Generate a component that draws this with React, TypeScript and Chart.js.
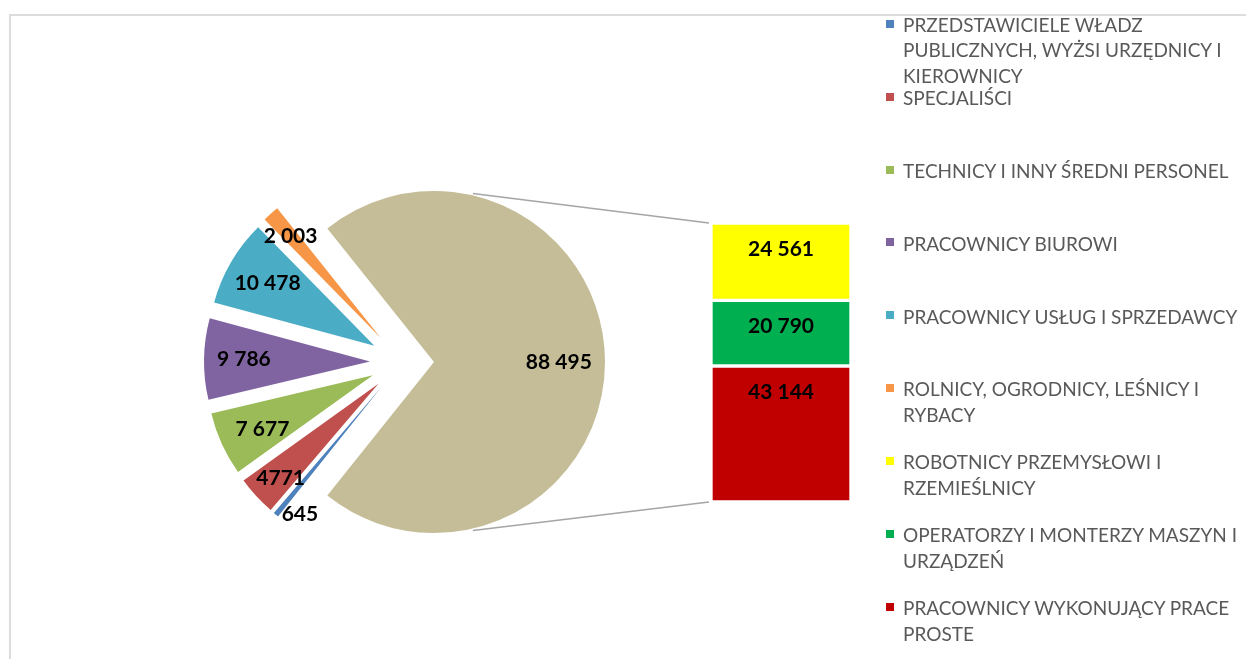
import React, { useEffect, useRef } from 'react';
import { Chart, registerables } from 'chart.js';

Chart.register(...registerables);

// ---------------- data ----------------
const pieCategories = [
  'PRZEDSTAWICIELE WŁADZ\nPUBLICZNYCH, WYŻSI URZĘDNICY I\nKIEROWNICY',
  'SPECJALIŚCI',
  'TECHNICY I INNY ŚREDNI PERSONEL',
  'PRACOWNICY BIUROWI',
  'PRACOWNICY USŁUG I SPRZEDAWCY',
  'ROLNICY, OGRODNICY, LEŚNICY I\nRYBACY',
];
const pieValues = [645, 4771, 7677, 9786, 10478, 2003];
const pieValueLabels = ['645', '4771', '7 677', '9 786', '10 478', '2 003'];

const barCategories = [
  'ROBOTNICY PRZEMYSŁOWI I\nRZEMIEŚLNICY',
  'OPERATORZY I MONTERZY MASZYN I\nURZĄDZEŃ',
  'PRACOWNICY WYKONUJĄCY PRACE\nPROSTE',
];
const barValues = [24561, 20790, 43144];
const barValueLabels = ['24 561', '20 790', '43 144'];

const otherCategory = 'POZOSTALI';
const otherValueLabel = '88 495';

// ---------------- style ----------------
const pieColors = ['#4F81BD', '#C0504D', '#9BBB59', '#8064A2', '#4BACC6', '#F79646'];
const otherColor = '#C4BD97';
const barColors = ['#FFFF00', '#00B050', '#C00000'];

const W = 1246;
const H = 659;
const PIE_CX = 402;
const PIE_CY = 362;
const SMALL_R = 166;
const BIG_R = 171;
const EXPLODE = 32;
const BAR_LEFT = 711;
const BAR_TOP = 223;
const BAR_W = 140;
const BAR_H = 279;
const LABEL_FONT = 'bold 21px Lato';
// label distance (fraction of radius) and angular nudge per slice (other first)
const pieLabelFrac = [0.73, 0.915, 0.82, 0.74, 0.76, 0.745, 0.82];
const pieLabelNudgeDeg = [0, -7, -1.5, -1.5, 0, 0, 0];

const LEG_MARK_X = 886;
const LEG_TEXT_X = 903;
const LEG_Y0 = 23.7;
const LEG_STEP = 72.9;
const LEG_LINE_H = 25.5;
const LEG_FONT_SIZE = 19;

const norm = (s: string) => s.replace(/\n/g, ' ');

export default function App() {
  const pieRef = useRef<HTMLCanvasElement>(null);
  const barRef = useRef<HTMLCanvasElement>(null);

  useEffect(() => {
    if (!pieRef.current || !barRef.current) return;

    const otherValue = barValues.reduce((a, b) => a + b, 0);
    const total = pieValues.reduce((a, b) => a + b, 0) + otherValue;
    const otherDeg = (otherValue / total) * 360;

    // ---------- bar (breakdown of the aggregated slice) ----------
    const stackOrder = [2, 1, 0]; // bottom to top
    const barLabelPlugin = {
      id: 'barLabels',
      afterDatasetsDraw(chart: any) {
        const ctx = chart.ctx;
        ctx.save();
        ctx.font = LABEL_FONT;
        ctx.fillStyle = '#000';
        ctx.textAlign = 'center';
        ctx.textBaseline = 'middle';
        chart.data.datasets.forEach((ds: any, di: number) => {
          const el: any = chart.getDatasetMeta(di).data[0];
          ctx.fillText(ds.valueLabel, el.x, el.y + 26);
        });
        ctx.restore();
      },
    };

    const barChart = new Chart(barRef.current, {
      type: 'bar',
      data: {
        labels: [otherCategory],
        datasets: stackOrder.map((k) => ({
          label: norm(barCategories[k]),
          data: [barValues[k]],
          backgroundColor: barColors[k],
          borderColor: '#FFFFFF',
          borderWidth: 2,
          borderSkipped: false,
          categoryPercentage: 1,
          barPercentage: 1,
          valueLabel: barValueLabels[k],
        })) as any,
      },
      options: {
        responsive: false,
        animation: false,
        events: [],
        layout: { padding: 0 },
        plugins: { legend: { display: false }, tooltip: { enabled: false } },
        scales: {
          x: { display: false, stacked: true },
          y: { display: false, stacked: true, min: 0, max: otherValue },
        },
      },
      plugins: [barLabelPlugin],
    });

    // ---------- pie ----------
    const explodePlugin = {
      id: 'explode',
      afterDatasetUpdate(chart: any, args: any) {
        const meta = chart.getDatasetMeta(args.index);
        meta.data.forEach((el: any, i: number) => {
          const mid = (el.startAngle + el.endAngle) / 2;
          el.x += Math.cos(mid) * EXPLODE;
          el.y += Math.sin(mid) * EXPLODE;
          el.outerRadius = i === 0 ? BIG_R : SMALL_R;
        });
      },
    };

    const pieLabels = [otherValueLabel, ...pieValueLabels];
    const pieLabelPlugin = {
      id: 'pieLabels',
      afterDatasetsDraw(chart: any) {
        const ctx = chart.ctx;
        const meta = chart.getDatasetMeta(0);
        // connector lines from the aggregated slice to the bar
        const big: any = meta.data[0];
        let top = Infinity;
        let bottom = -Infinity;
        let left = Infinity;
        barChart.data.datasets.forEach((_: any, di: number) => {
          barChart.getDatasetMeta(di).data.forEach((b: any) => {
            top = Math.min(top, b.y, b.base);
            bottom = Math.max(bottom, b.y, b.base);
            left = Math.min(left, b.x - b.width / 2);
          });
        });
        top += BAR_TOP;
        bottom += BAR_TOP;
        left += BAR_LEFT;
        const a = (77 * Math.PI) / 180;
        const r = big.outerRadius + 2;
        ctx.save();
        ctx.strokeStyle = '#A5A5A5';
        ctx.lineWidth = 1.5;
        ctx.beginPath();
        ctx.moveTo(big.x + Math.cos(-a) * r, big.y + Math.sin(-a) * r);
        ctx.lineTo(left - 2, top);
        ctx.moveTo(big.x + Math.cos(a) * r, big.y + Math.sin(a) * r);
        ctx.lineTo(left - 2, bottom);
        ctx.stroke();
        ctx.restore();

        ctx.save();
        ctx.font = LABEL_FONT;
        ctx.fillStyle = '#000';
        ctx.textAlign = 'center';
        ctx.textBaseline = 'middle';
        meta.data.forEach((el: any, i: number) => {
          const mid = (el.startAngle + el.endAngle) / 2 + (pieLabelNudgeDeg[i] * Math.PI) / 180;
          const rr = el.outerRadius * pieLabelFrac[i];
          ctx.fillText(pieLabels[i], el.x + Math.cos(mid) * rr, el.y + Math.sin(mid) * rr);
        });
        ctx.restore();
      },
    };

    const pieChart = new Chart(pieRef.current, {
      type: 'pie',
      data: {
        labels: [otherCategory, ...pieCategories.map(norm)],
        datasets: [
          {
            data: [otherValue, ...pieValues],
            backgroundColor: [otherColor, ...pieColors],
            borderWidth: 0,
          },
        ],
      },
      options: {
        responsive: false,
        animation: false,
        events: [],
        rotation: 90 - otherDeg / 2,
        radius: SMALL_R,
        layout: {
          padding: { left: 0, right: W - 2 * PIE_CX, top: 2 * PIE_CY - H, bottom: 0 },
        },
        plugins: { legend: { display: false }, tooltip: { enabled: false } },
      },
      plugins: [explodePlugin, pieLabelPlugin],
    });

    return () => {
      pieChart.destroy();
      barChart.destroy();
    };
  }, []);

  const legendNames = [...pieCategories, ...barCategories];
  const legendColors = [...pieColors, ...barColors];

  return (
    <div
      style={{
        position: 'absolute',
        left: 0,
        top: 0,
        width: W,
        height: H,
        overflow: 'hidden',
        background: '#fff',
        fontFamily: 'Lato, sans-serif',
      }}
    >
      <div
        style={{
          position: 'absolute',
          left: 9,
          top: 14,
          width: W + 20,
          height: H + 20,
          borderTop: '2px solid #DCDCDC',
          borderLeft: '2px solid #DCDCDC',
        }}
      />
      <canvas ref={pieRef} width={W} height={H} style={{ position: 'absolute', left: 0, top: 0 }} />
      <canvas
        ref={barRef}
        width={BAR_W}
        height={BAR_H}
        style={{ position: 'absolute', left: BAR_LEFT, top: BAR_TOP }}
      />
      {legendNames.map((name, i) => {
        const cy = LEG_Y0 + LEG_STEP * i;
        return (
          <React.Fragment key={i}>
            <div
              style={{
                position: 'absolute',
                left: LEG_MARK_X,
                top: cy - 4,
                width: 8,
                height: 8,
                background: legendColors[i],
              }}
            />
            <div
              style={{
                position: 'absolute',
                left: LEG_TEXT_X,
                top: cy - LEG_LINE_H / 2 + 1,
                whiteSpace: 'pre',
                fontSize: LEG_FONT_SIZE,
                lineHeight: LEG_LINE_H + 'px',
                color: '#595959',
              }}
            >
              {name}
            </div>
          </React.Fragment>
        );
      })}
    </div>
  );
}
